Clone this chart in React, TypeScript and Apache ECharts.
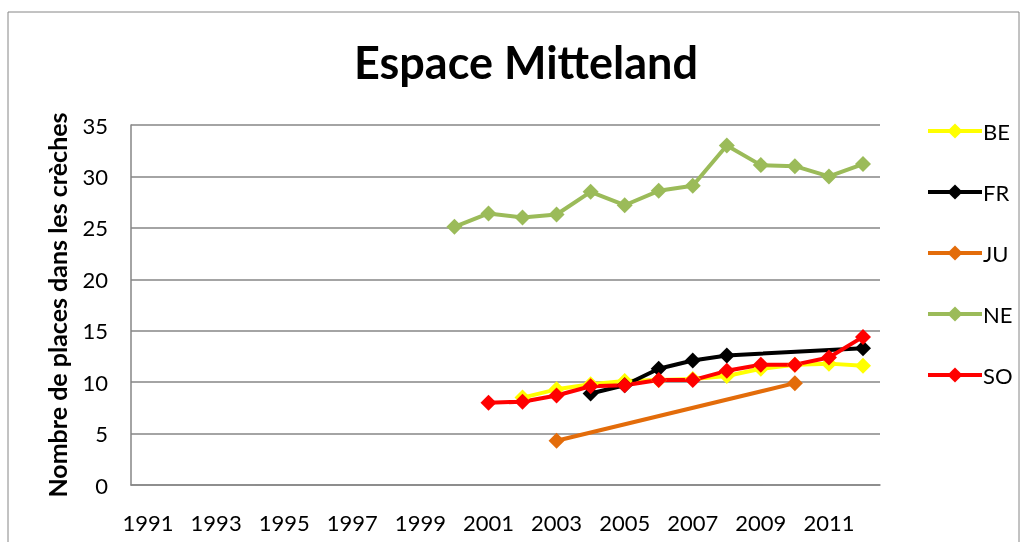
import React, { useEffect, useRef } from "react";
import * as echarts from "echarts";

const years = ["1991","1992","1993","1994","1995","1996","1997","1998","1999","2000","2001","2002","2003","2004","2005","2006","2007","2008","2009","2010","2011","2012"];
const BE = [null,null,null,null,null,null,null,null,null,null,null,8.5,9.3,9.8,10.1,10.2,10.3,10.6,11.3,11.7,11.8,11.6];
const FR = [null,null,null,null,null,null,null,null,null,null,null,null,null,8.9,9.7,11.3,12.1,12.6,null,null,null,13.3];
const JU = [null,null,null,null,null,null,null,null,null,null,null,null,4.3,null,null,null,null,null,null,9.9,null,null];
const NE = [null,null,null,null,null,null,null,null,null,25.1,26.4,26.0,26.3,28.5,27.2,28.6,29.1,33.0,31.1,31.0,30.0,31.2];
const SO = [null,null,null,null,null,null,null,null,null,null,8.0,8.1,8.7,9.6,9.7,10.2,10.2,11.1,11.7,11.7,12.4,14.4];

const seriesDefs = [
  { name: "BE", data: BE, color: "#FFFF00" },
  { name: "FR", data: FR, color: "#000000" },
  { name: "JU", data: JU, color: "#E36C0A" },
  { name: "NE", data: NE, color: "#9BBB59" },
  { name: "SO", data: SO, color: "#FF0000" },
];

export default function App() {
  const ref = useRef<HTMLDivElement>(null);
  useEffect(() => {
    const chart = echarts.init(ref.current!, null, { renderer: "svg" });
    const font = "Lato, 'Open Sans', sans-serif";
    chart.setOption({
      animation: false,
      textStyle: { fontFamily: font },
      title: {
        text: "Espace Mitteland",
        left: 521,
        textAlign: "center",
        top: 34,
        textStyle: { fontSize: 45, fontWeight: "bold", color: "#000", fontFamily: font },
      },
      graphic: [
        {
          type: "rect",
          shape: { x: 8, y: 12, width: 1011, height: 600 },
          style: { fill: "none", stroke: "#868686", lineWidth: 1 },
          silent: true,
        },
      ],
      legend: {
        orient: "vertical",
        left: 921,
        top: 115,
        itemWidth: 54,
        itemHeight: 19,
        itemGap: 39,
        lineStyle: { width: 4 },
        textStyle: { fontSize: 22, lineHeight: 22, color: "#000", fontFamily: font, padding: [0, 0, 0, -4] },
        data: seriesDefs.map((s) => s.name),
      },
      grid: { left: 131, right: 147, top: 125, bottom: 57, containLabel: false },
      xAxis: {
        type: "category",
        data: years,
        boundaryGap: true,
        axisLine: { show: true, lineStyle: { color: "#868686", width: 1.5 } },
        axisTick: { show: false },
        axisLabel: { interval: 1, fontSize: 22, color: "#000", margin: 26, fontFamily: font },
      },
      yAxis: {
        type: "value",
        min: 0,
        max: 35,
        interval: 5,
        name: "Nombre de places dans les crèches",
        nameLocation: "middle",
        nameGap: 62,
        nameTextStyle: { fontSize: 25, fontWeight: "bold", color: "#000", fontFamily: font },
        axisLine: { show: true, lineStyle: { color: "#868686", width: 1.5 } },
        axisTick: { show: false },
        axisLabel: { fontSize: 22, color: "#000", margin: 23, fontFamily: font },
        splitLine: { lineStyle: { color: "#868686", width: 1.5 } },
      },
      series: seriesDefs.map((s) => ({
        name: s.name,
        type: "line",
        data: s.data,
        connectNulls: true,
        symbol: "diamond",
        symbolSize: 16,
        showAllSymbol: true,
        color: s.color,
        lineStyle: { color: s.color, width: 4 },
        itemStyle: { color: s.color },
      })),
    });
    return () => chart.dispose();
  }, []);
  return <div ref={ref} style={{ position: "fixed", left: 0, top: 0, width: 1027, height: 542 }} />;
}
